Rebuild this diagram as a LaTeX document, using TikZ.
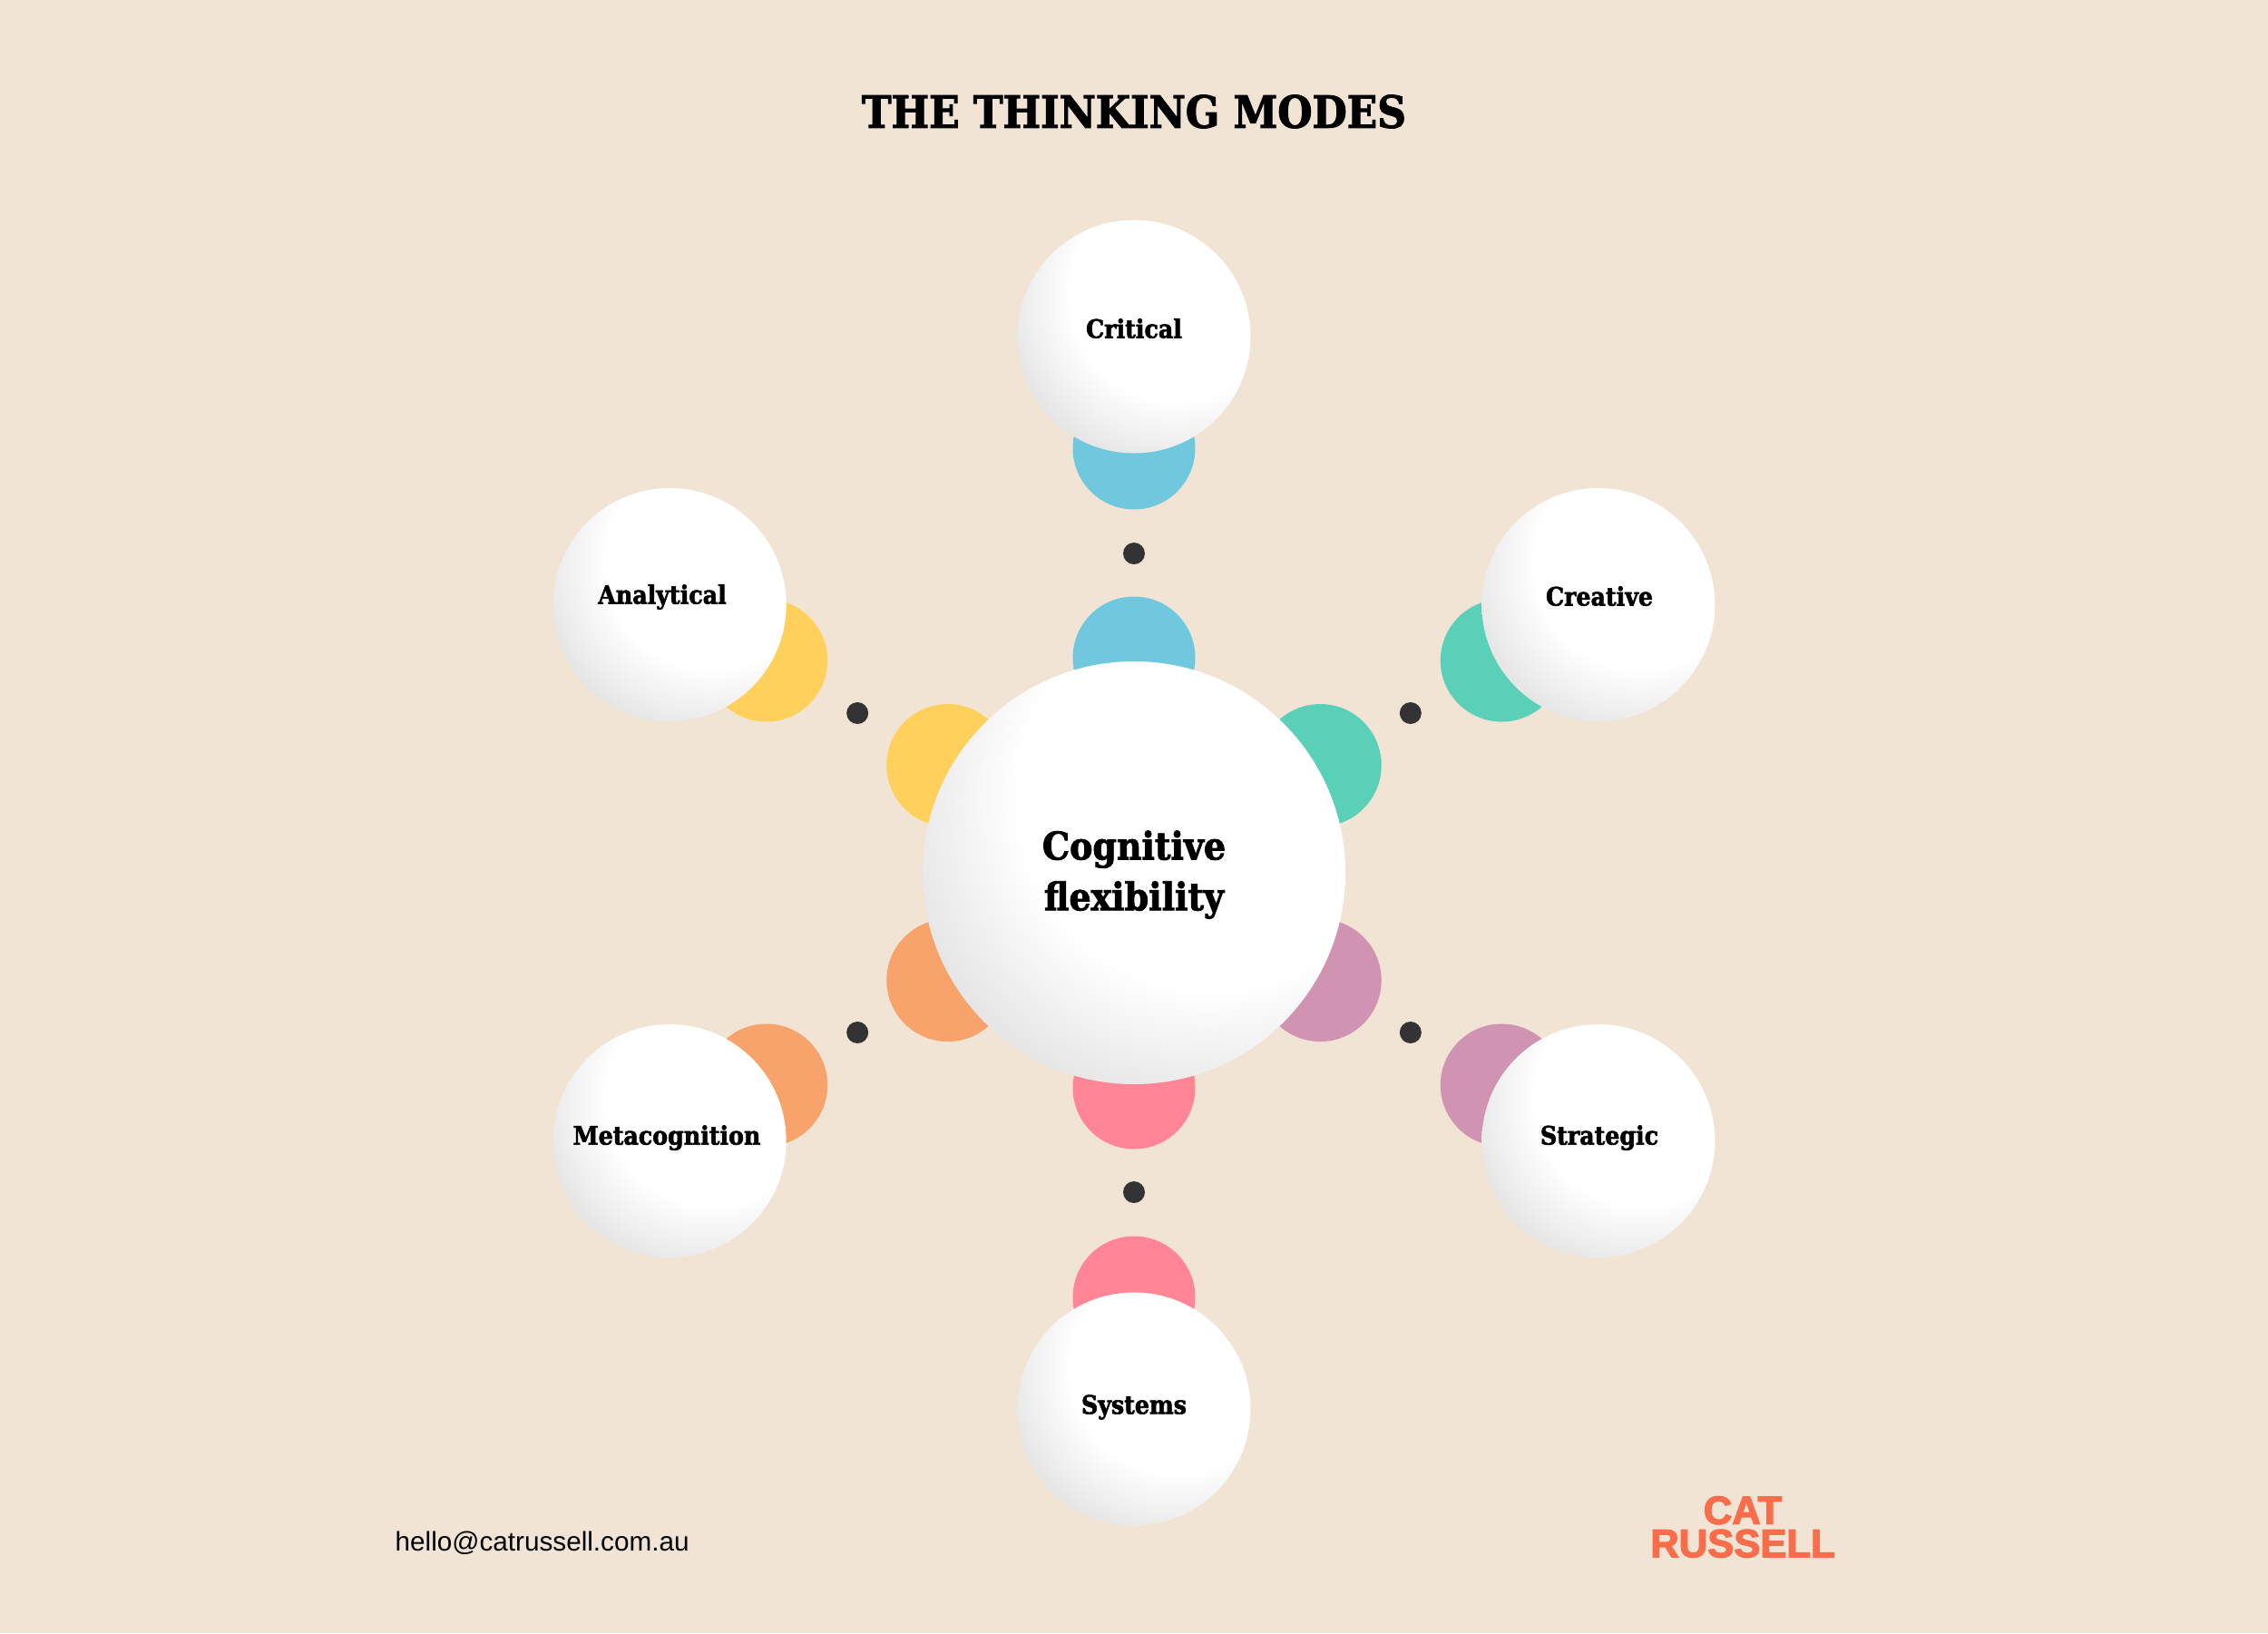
\documentclass[tikz,border=0pt]{standalone}
\usepackage{fontspec}
\usepackage{tikz}
\usetikzlibrary{positioning,calc}

\newfontfamily\slabfont{DejaVu Serif Condensed}[BoldFeatures={FakeBold=2}]
\newfontfamily\logofont{Liberation Sans}[BoldFeatures={FakeBold=3}]
\setmainfont{Liberation Sans}

\definecolor{paper}{HTML}{F1E4D4}
\definecolor{critblue}{HTML}{70C8DF}
\definecolor{creategreen}{HTML}{5AD0B8}
\definecolor{stratmauve}{HTML}{D094B2}
\definecolor{syspink}{HTML}{FF8597}
\definecolor{metaorange}{HTML}{F8A26C}
\definecolor{analyellow}{HTML}{FFD15C}
\definecolor{dotgrey}{HTML}{333333}
\definecolor{logored}{HTML}{F96D4A}

\pgfdeclareradialshading{bubbleball}{\pgfpoint{12bp}{12bp}}{%
  color(0bp)=(white); color(23bp)=(white); color(42bp)=(black!15); color(100bp)=(black!15)}

\tikzset{
  hubball/.style={circle, shade, shading=bubbleball, minimum size=4.66cm, inner sep=0pt},
  modeball/.style={circle, shade, shading=bubbleball, minimum size=2.57cm, inner sep=0pt},
  tint/.style={circle, fill=#1, minimum size=1.35cm, inner sep=0pt},
  sep dot/.style={circle, fill=dotgrey, minimum size=0.24cm, inner sep=0pt},
  modelabel/.style={font=\slabfont\bfseries\fontsize{8}{9}\selectfont},
}

\begin{document}
\begin{tikzpicture}
    \useasboundingbox (-12.5, -8.38) rectangle (12.5, 9.62);
    \fill[paper] (-12.5, -8.38) rectangle (12.5, 9.62);

    % Title
    \node[font=\slabfont\bfseries\fontsize{13.9}{17}\selectfont] (title) at (0, 8.39) {THE THINKING MODES};

    % Tinted discs and dots, one spoke per mode
    \foreach \name/\ang/\col in {crit/90/critblue, create/30/creategreen, strat/-30/stratmauve,
                                 sys/-90/syspink, meta/-150/metaorange, ana/150/analyellow} {
        \node[tint=\col] (\name inner) at (\ang:2.37) {};
        \node[tint=\col] (\name outer) at (\ang:4.68) {};
        \node[sep dot] (\name dot) at (\ang:3.52) {};
    }

    % White balls
    \node[hubball] (hub) at (0, 0) {};
    \foreach \name/\ang in {crit/90, create/30, strat/-30, sys/-90, meta/-150, ana/150} {
        \node[modeball] (\name ball) at (\ang:5.91) {};
    }

    % Labels
    \node[font=\slabfont\bfseries\fontsize{12}{15.9}\selectfont, align=center] (hublabel) at (0, -0.02) {Cognitive\\flexibility};
    \node[modelabel] (critlabel) at (0, 6) {Critical};
    \node[modelabel] (createlabel) at (5.13, 3.05) {Creative};
    \node[modelabel] (stratlabel) at (5.13, -2.92) {Strategic};
    \node[modelabel] (syslabel) at (0, -5.89) {Systems};
    \node[modelabel] (metalabel) at (-5.15, -2.92) {Metacognition};
    \node[modelabel] (analabel) at (-5.2, 3.04) {Analytical};

    % Footer
    \node[anchor=west, inner sep=0pt, font=\fontsize{8.45}{10}\selectfont] (mail) at (-8.15, -7.39) {hello@catrussell.com.au};
    \node[text=logored, align=center, font=\logofont\bfseries\fontsize{12.4}{10.4}\selectfont] (logo) at (6.71, -7.21) {CAT\\RUSSELL};
\end{tikzpicture}
\end{document}
